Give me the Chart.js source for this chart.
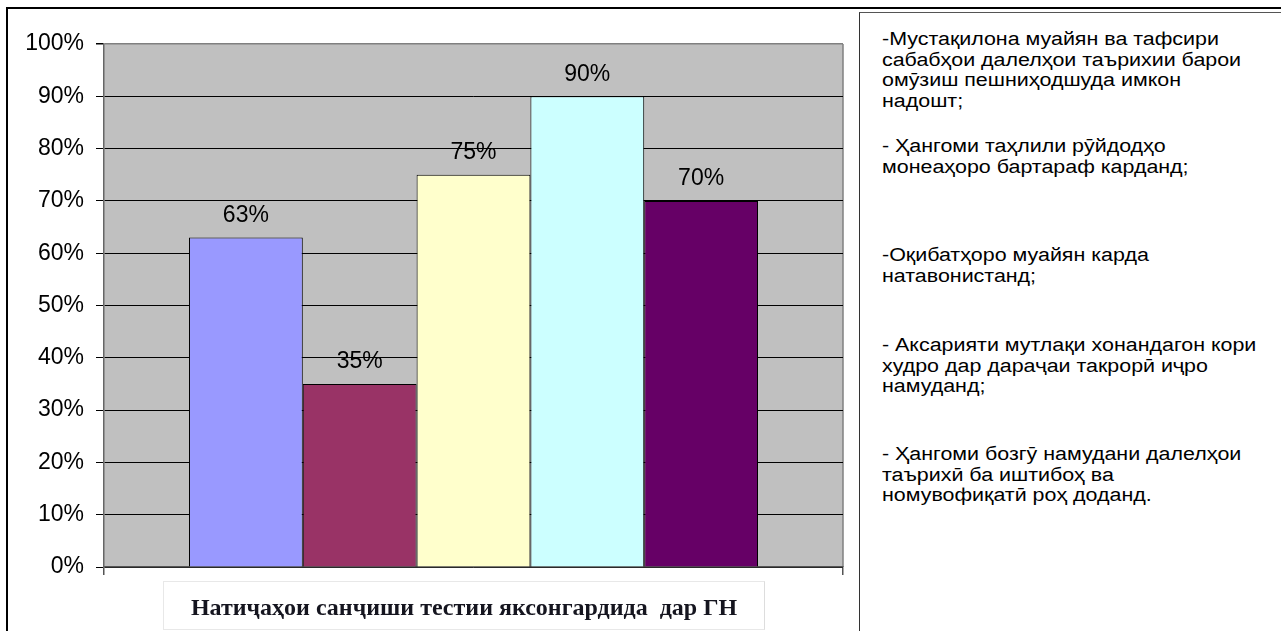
<!DOCTYPE html>
<html>
<head>
<meta charset="utf-8">
<script src="https://cdn.jsdelivr.net/npm/chart.js@4.4.1/dist/chart.umd.min.js"></script>
<style>
  html, body { margin: 0; padding: 0; background: #fff; }
  #page { position: relative; width: 1281px; height: 631px; overflow: hidden; }
  #frame { position: absolute; left: 6px; top: 7px; width: 1290px; height: 640px;
           border-left: 2px solid #000; border-top: 2px solid #000; }
  #chartBox { position: absolute; left: 0; top: 0; width: 859px; height: 631px; }
  #notes { position: absolute; left: 859px; top: 12px; width: 440px; height: 640px;
           border-left: 1px solid #333; border-top: 1px solid #555; }
  .note { position: absolute; left: 22px; white-space: nowrap; transform: scaleX(1.19); transform-origin: left top;
          font: 18px 'Liberation Sans', Arial, 'DejaVu Sans', sans-serif; line-height: 20.7px; color: #000; }
  #xTitle { position: absolute; left: 163px; top: 581px; width: 600px; height: 47px;
            border: 1px solid #e8e8e8; border-right-color: #ddd;
            font: bold 24px 'Liberation Serif', 'Times New Roman', serif; color: #15151f;
            text-align: center; line-height: 50px; white-space: pre; }
</style>
</head>
<body>
<div id="page">
  <div id="frame"></div>
  <div id="chartBox"><canvas id="resultsChart"></canvas></div>
  <div id="xTitle"></div>
  <div id="notes"></div>
</div>
<script>
// data
const axisTitle = 'Натиҷаҳои санҷиши тестии яксонгардида  дар ГН';
const seriesValues = [63, 35, 75, 90, 70];
const seriesColors = ['#9999FF', '#993366', '#FFFFCC', '#CCFFFF', '#660066'];
const yTicks = [0, 10, 20, 30, 40, 50, 60, 70, 80, 90, 100];
const notes = [
    ['-Мустақилона муайян ва тафсири', 'сабабҳои далелҳои таърихии барои', 'омӯзиш пешниҳодшуда имкон', 'надошт;'],
    ['- Ҳангоми таҳлили рӯйдодҳо', 'монеаҳоро бартараф карданд;'],
    ['-Оқибатҳоро муайян карда', 'натавонистанд;'],
    ['- Аксарияти мутлақи хонандагон кори', 'худро дар дараҷаи такрорӣ иҷро', 'намуданд;'],
    ['- Ҳангоми бозгӯ намудани далелҳои', 'таърихӣ ба иштибоҳ ва', 'номувофиқатӣ роҳ доданд.']
];
const noteTops = [16, 123, 232, 322, 431]; // layout only

document.getElementById('xTitle').textContent = axisTitle;
const notesBox = document.getElementById('notes');
notes.forEach(function (lines, i) {
    const d = document.createElement('div');
    d.className = 'note';
    d.style.top = noteTops[i] + 'px';
    lines.forEach(function (line, j) {
        if (j) d.appendChild(document.createElement('br'));
        d.appendChild(document.createTextNode(line));
    });
    notesBox.appendChild(d);
});

// gray plot background + right border
const plotBackground = {
    id: 'plotBackground',
    beforeDraw(chart) {
        const { ctx, chartArea: a } = chart;
        ctx.save();
        ctx.fillStyle = '#C0C0C0';
        ctx.fillRect(a.left, a.top, a.right - a.left, a.bottom - a.top);
        ctx.strokeStyle = '#808080';
        ctx.lineWidth = 1.5;
        ctx.beginPath();
        ctx.moveTo(a.right, a.top);
        ctx.lineTo(a.right, a.bottom);
        ctx.stroke();
        ctx.restore();
    }
};

// value labels above the bars
const valueLabels = {
    id: 'valueLabels',
    afterDatasetsDraw(chart) {
        const ctx = chart.ctx;
        ctx.save();
        ctx.font = "23px 'Liberation Sans', Arial, sans-serif";
        ctx.fillStyle = '#000';
        ctx.textAlign = 'center';
        ctx.textBaseline = 'middle';
        chart.data.datasets.forEach(function (ds, i) {
            const bar = chart.getDatasetMeta(i).data[0];
            ctx.fillText(ds.data[0] + '%', bar.x, bar.y - 22);
        });
        ctx.restore();
    }
};

const ctx = document.getElementById('resultsChart');
const resultsChart = new Chart(ctx, {
    type: 'bar',
    data: {
        labels: [''],
        datasets: seriesValues.map(function (v, i) {
            return {
                label: 'S' + (i + 1),
                data: [v],
                backgroundColor: seriesColors[i],
                borderColor: '#000',
                borderWidth: 1,
                categoryPercentage: 0.77,
                barPercentage: 1.0
            };
        })
    },
    options: {
        responsive: true,
        maintainAspectRatio: false,
        animation: false,
        layout: { padding: { top: 44, right: 16, bottom: 0, left: 0 } },
        plugins: { legend: { display: false }, tooltip: { enabled: false } },
        scales: {
            x: {
                offset: true,
                grid: { display: true, offset: true, drawOnChartArea: false, drawTicks: true,
                        tickLength: 8, color: '#555', lineWidth: 1.5 },
                border: { display: true, color: '#555', width: 1.5 },
                ticks: { display: false },
                afterFit: function (s) { s.height = 64; }
            },
            y: {
                min: 0,
                max: 100,
                afterBuildTicks: function (s) { s.ticks = yTicks.map(function (v) { return { value: v }; }); },
                grid: {
                    color: function (c) { return c.tick && c.tick.value === 100 ? '#808080' : '#000'; },
                    tickColor: '#000',
                    lineWidth: function (c) { return c.tick && c.tick.value === 100 ? 1.5 : 1; },
                    tickLength: 8
                },
                border: { display: true, color: '#666', width: 1.5 },
                ticks: {
                    padding: 12,
                    color: '#000',
                    font: { family: "'Liberation Sans', Arial, sans-serif", size: 23 },
                    callback: function (v) { return v + '%'; }
                },
                afterFit: function (s) { s.width = 104; }
            }
        }
    },
    plugins: [plotBackground, valueLabels]
});
</script>
</body>
</html>
